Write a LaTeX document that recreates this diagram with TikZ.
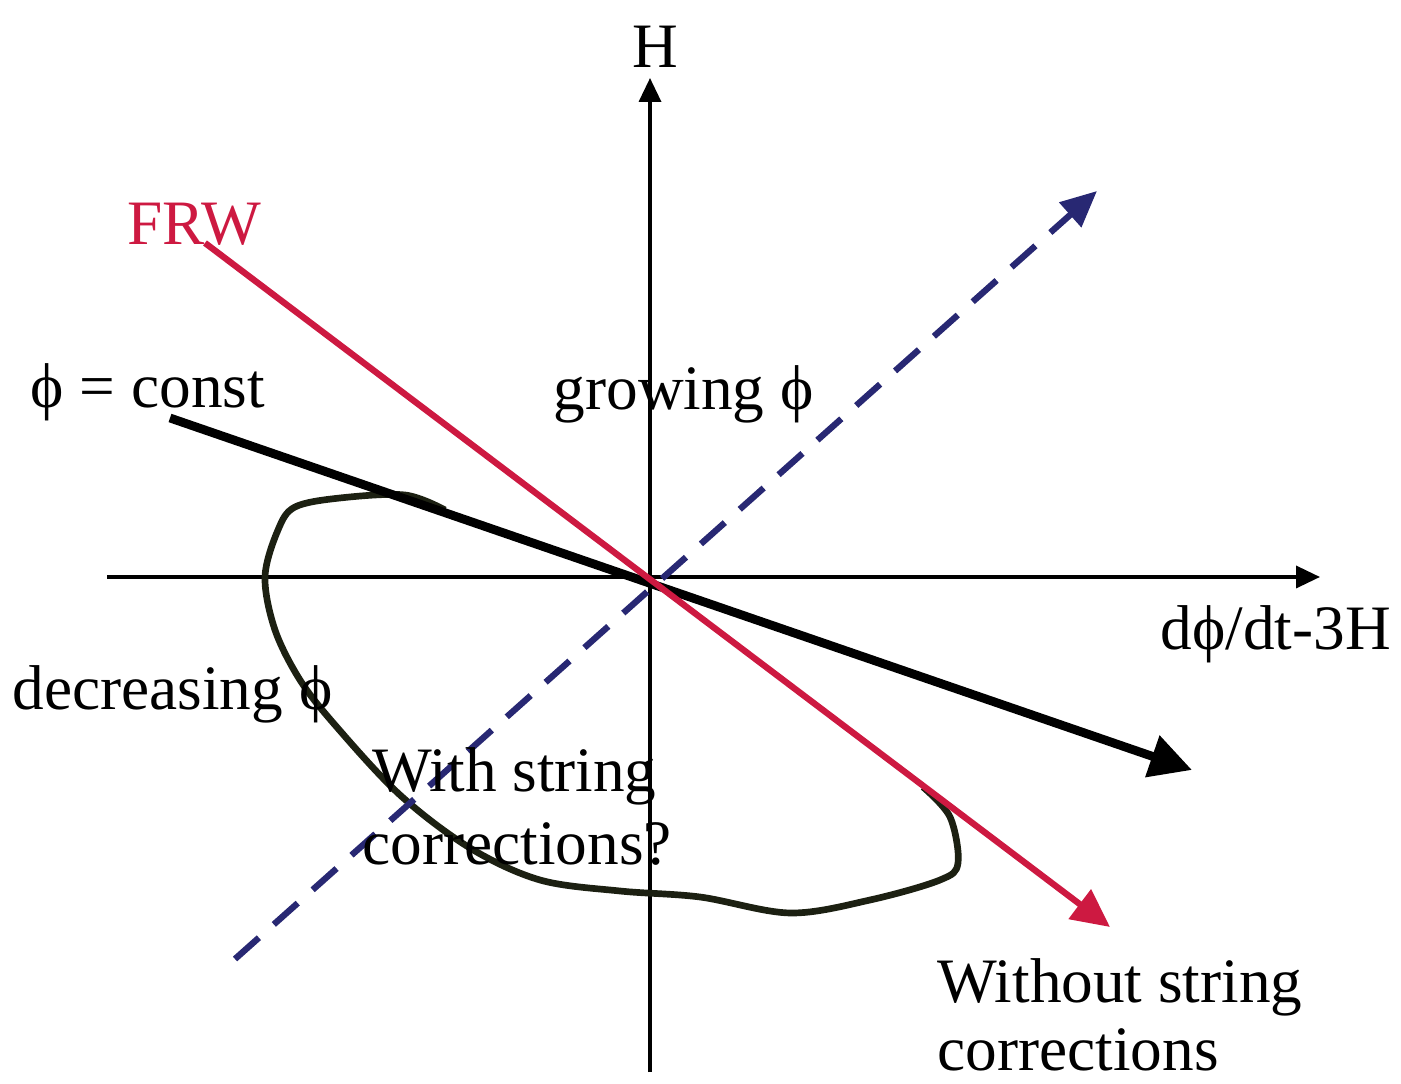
\documentclass[tikz,border=0pt]{standalone}
\usepackage{fontspec}
\setmainfont{Liberation Serif}
\usetikzlibrary{arrows.meta}
\definecolor{frwred}{RGB}{205,25,65}
\definecolor{dashblue}{RGB}{40,40,115}
\definecolor{curvecol}{RGB}{28,32,18}
\tikzset{
  axisline/.style={line width=1.0pt,-{Triangle[length=0.24cm,width=0.22cm]}},
  frwline/.style={frwred,line width=1.8pt,-{Triangle[length=0.38cm,width=0.36cm]}},
  constline/.style={black,line width=2.5pt,-{Triangle[length=0.42cm,width=0.42cm]}},
  growline/.style={dashblue,line width=1.8pt,dash pattern=on 0.32cm off 0.2cm,-{Triangle[length=0.36cm,width=0.32cm]}},
  traj/.style={curvecol,line width=1.9pt},
  lbl/.style={inner sep=0pt,anchor=base west,font=\fontsize{18}{21}\selectfont},
}
\begin{document}
\begin{tikzpicture}
\useasboundingbox (0,0) rectangle (14.01,10.83);
% coordinates
\coordinate (O) at (6.50,5.06);
\coordinate (vb) at (6.50,0.11);
\coordinate (vt) at (6.50,10.05);
\coordinate (hl) at (1.07,5.06);
\coordinate (hr) at (13.20,5.06);
\coordinate (rs) at (2.05,8.40);
\coordinate (re) at (11.10,1.56);
\coordinate (ks) at (1.70,6.65);
\coordinate (ke) at (11.92,3.13);
\coordinate (bs) at (2.35,1.24);
\coordinate (be) at (10.97,8.92);
% axes
\draw[axisline] (vb) -- (vt);
\draw[axisline] (hl) -- (hr);
% trajectory
\draw[traj] plot[smooth,tension=0.55] coordinates {(4.45,5.73) (4.05,5.88) (3.40,5.85) (2.95,5.76) (2.78,5.53) (2.65,5.06) (2.75,4.53) (3.00,4.03) (3.35,3.58) (4.00,2.88) (4.70,2.35) (5.40,2.03) (6.20,1.92) (7.00,1.86) (7.90,1.70) (8.70,1.83) (9.40,2.03) (9.58,2.20) (9.50,2.66) (9.23,2.96)};
% lines
\draw[growline] (bs) -- (be);
\draw[constline] (ks) -- (ke);
\draw[frwline] (rs) -- (re);
% labels
\node[inner sep=0pt,font=\fontsize{18}{21}\selectfont] (lH) at (6.55,10.36) {H};
\node[lbl,frwred] (lfrw) at (1.27,8.38) {FRW};
\node[lbl] (lconst) at (0.30,6.75) {ϕ = const};
\node[lbl] (lgrow) at (5.53,6.73) {growing ϕ};
\node[lbl] (lx) at (11.60,4.33) {dϕ/dt-3H};
\node[lbl] (ldec) at (0.12,3.73) {decreasing ϕ};
\node[lbl] (lw1) at (3.72,2.91) {With string};
\node[lbl] (lw2) at (3.62,2.18) {corrections?};
\node[lbl] (lwo1) at (9.37,0.80) {Without string};
\node[lbl] (lwo2) at (9.37,0.13) {corrections};
\end{tikzpicture}
\end{document}
